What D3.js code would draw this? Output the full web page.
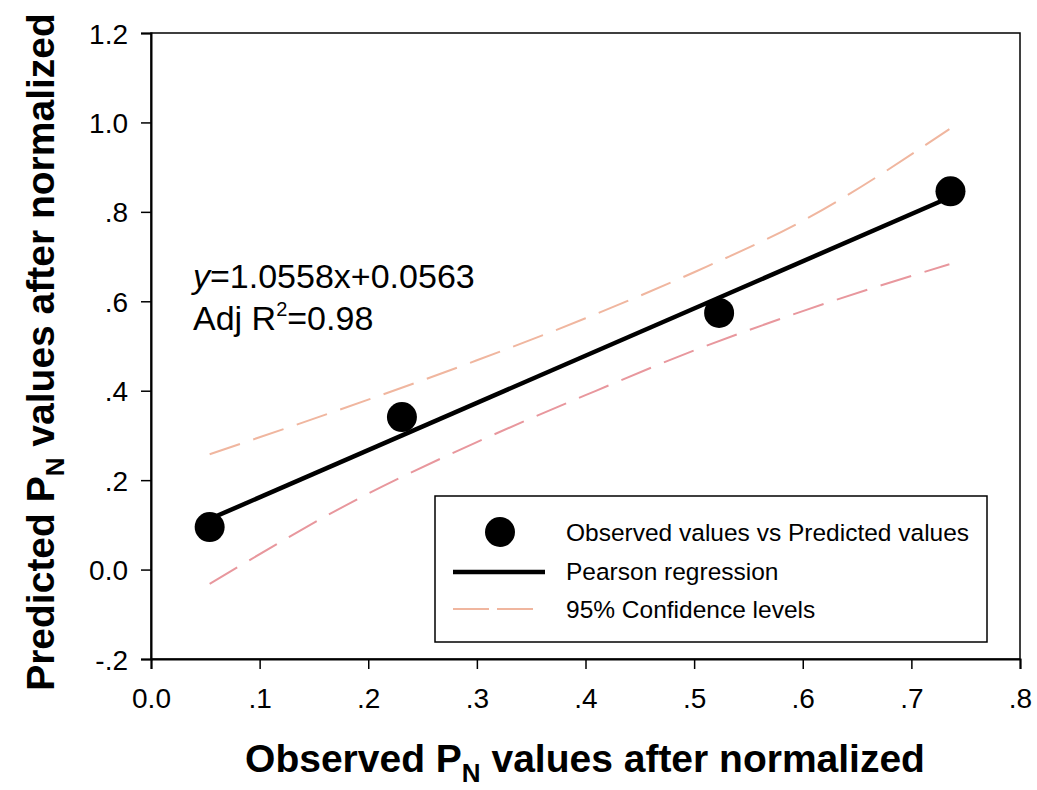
<!DOCTYPE html>
<html>
<head>
<meta charset="utf-8">
<script src="https://cdn.jsdelivr.net/npm/d3@7"></script>
<style>
    body { margin: 0; background: #fff; }
    text { font-family: "Liberation Sans", Arial, sans-serif; }
</style>
</head>
<body>
<script>
//chart values
var observed  = [0.054, 0.231, 0.523, 0.736];
var predicted = [0.095, 0.341, 0.574, 0.846];

//regression line ends
var fitX = [0.054, 0.735];
var fitY = [0.113, 0.832];

//95% confidence band, read at a few x positions
var bandX     = [0.054, 0.2, 0.3, 0.4, 0.5, 0.6, 0.735];
var bandUpper = [0.258, 0.38, 0.468, 0.562, 0.665, 0.78, 0.985];
var bandLower = [-0.032, 0.17, 0.285, 0.39, 0.49, 0.578, 0.683];

var xTicks = [0, 0.1, 0.2, 0.3, 0.4, 0.5, 0.6, 0.7, 0.8];
var yTicks = [-0.2, 0, 0.2, 0.4, 0.6, 0.8, 1.0, 1.2];

var legendText = ["Observed values vs Predicted values", "Pearson regression", "95% Confidence levels"];

(function(){

    var width = 1037, height = 790;
    var margin = {left: 151, right: 17, top: 33, bottom: 131};

    var svg = d3.select("body").append("svg")
        .attr("width", width)
        .attr("height", height);

    //scales
    var x = d3.scaleLinear().domain([0, 0.8]).range([margin.left, width - margin.right]);
    var y = d3.scaleLinear().domain([-0.2, 1.2]).range([height - margin.bottom, margin.top]);

    //tick labels like "0.0", ".2", "-.2"
    function fmt(d) {
        if (Math.abs(d) < 1e-9) return "0.0";
        var s = d.toFixed(1);
        if (Math.abs(d) < 1) s = s.replace("0.", ".");
        return s;
    }

    //frame (top and right)
    svg.append("rect")
        .attr("x", x(0)).attr("y", y(1.2))
        .attr("width", x(0.8) - x(0)).attr("height", y(-0.2) - y(1.2))
        .attr("fill", "none").attr("stroke", "#000").attr("stroke-width", 1.5);

    //axes
    var xAxis = svg.append("g")
        .attr("transform", "translate(0," + y(-0.2) + ")")
        .call(d3.axisBottom(x).tickValues(xTicks).tickFormat(fmt).tickSize(10).tickPadding(19));
    var yAxis = svg.append("g")
        .attr("transform", "translate(" + x(0) + ",0)")
        .call(d3.axisLeft(y).tickValues(yTicks).tickFormat(fmt).tickSize(10).tickPadding(13));

    [xAxis, yAxis].forEach(function(ax) {
        ax.select(".domain").attr("stroke-width", 2);
        ax.selectAll(".tick line").attr("stroke-width", 1.5);
        ax.selectAll("text").attr("font-size", 28).attr("fill", "#000")
            .attr("font-family", "'Liberation Sans', Arial, sans-serif");
    });
    yAxis.selectAll("text").attr("dy", "0.36em");

    //confidence band lines
    var bandLine = function(vals) {
        return d3.line()
            .x(function(d, i) { return x(bandX[i]); })
            .y(function(d) { return y(d); })
            .curve(d3.curveMonotoneX)(vals);
    };
    svg.append("path")
        .attr("d", bandLine(bandUpper))
        .attr("fill", "none").attr("stroke", "#f0b69f").attr("stroke-width", 2)
        .attr("stroke-dasharray", "32,14");
    svg.append("path")
        .attr("d", bandLine(bandLower))
        .attr("fill", "none").attr("stroke", "#e8979d").attr("stroke-width", 2)
        .attr("stroke-dasharray", "32,14");

    //regression line
    svg.append("line")
        .attr("x1", x(fitX[0])).attr("y1", y(fitY[0]))
        .attr("x2", x(fitX[1])).attr("y2", y(fitY[1]))
        .attr("stroke", "#000").attr("stroke-width", 4.5);

    //points
    svg.selectAll(".pt")
        .data(observed)
        .enter()
        .append("circle")
        .attr("class", "pt")
        .attr("cx", function(d) { return x(d); })
        .attr("cy", function(d, i) { return y(predicted[i]); })
        .attr("r", 15)
        .attr("fill", "#000");

    //equation text
    var eq = svg.append("text").attr("x", 193).attr("y", 288).attr("font-size", 34);
    eq.append("tspan").attr("font-style", "italic").text("y");
    eq.append("tspan").text("=1.0558x+0.0563");
    var r2 = svg.append("text").attr("x", 193).attr("y", 330).attr("font-size", 34);
    r2.append("tspan").text("Adj R");
    r2.append("tspan").attr("font-size", 20).attr("dy", -14).text("2");
    r2.append("tspan").attr("dy", 14).text("=0.98");

    //legend
    var lg = svg.append("g");
    lg.append("rect")
        .attr("x", 435).attr("y", 496).attr("width", 552).attr("height", 146)
        .attr("fill", "#fff").attr("stroke", "#000").attr("stroke-width", 1.5);
    lg.append("circle").attr("cx", 500).attr("cy", 532).attr("r", 15).attr("fill", "#000");
    lg.append("line").attr("x1", 453).attr("x2", 545).attr("y1", 572).attr("y2", 572)
        .attr("stroke", "#000").attr("stroke-width", 4.5);
    lg.append("line").attr("x1", 453).attr("x2", 533).attr("y1", 609).attr("y2", 609)
        .attr("stroke", "#f0b69f").attr("stroke-width", 2).attr("stroke-dasharray", "36,8");
    lg.selectAll(".lt")
        .data(legendText)
        .enter()
        .append("text")
        .attr("x", 566)
        .attr("y", function(d, i) { return 541 + i * 38.5; })
        .attr("font-size", 24.5)
        .text(function(d) { return d; });

    //axis titles
    var xt = svg.append("text")
        .attr("x", 585).attr("y", 772)
        .attr("text-anchor", "middle")
        .attr("font-size", 39).attr("font-weight", "bold");
    xt.append("tspan").text("Observed P");
    xt.append("tspan").attr("font-size", 26).attr("dy", 10).text("N");
    xt.append("tspan").attr("dy", -10).text(" values after normalized");

    var yt = svg.append("text")
        .attr("transform", "translate(54,352) rotate(-90)")
        .attr("text-anchor", "middle")
        .attr("font-size", 39).attr("font-weight", "bold");
    yt.append("tspan").text("Predicted P");
    yt.append("tspan").attr("font-size", 26).attr("dy", 10).text("N");
    yt.append("tspan").attr("dy", -10).text(" values after normalized");
})();
</script>
</body>
</html>
